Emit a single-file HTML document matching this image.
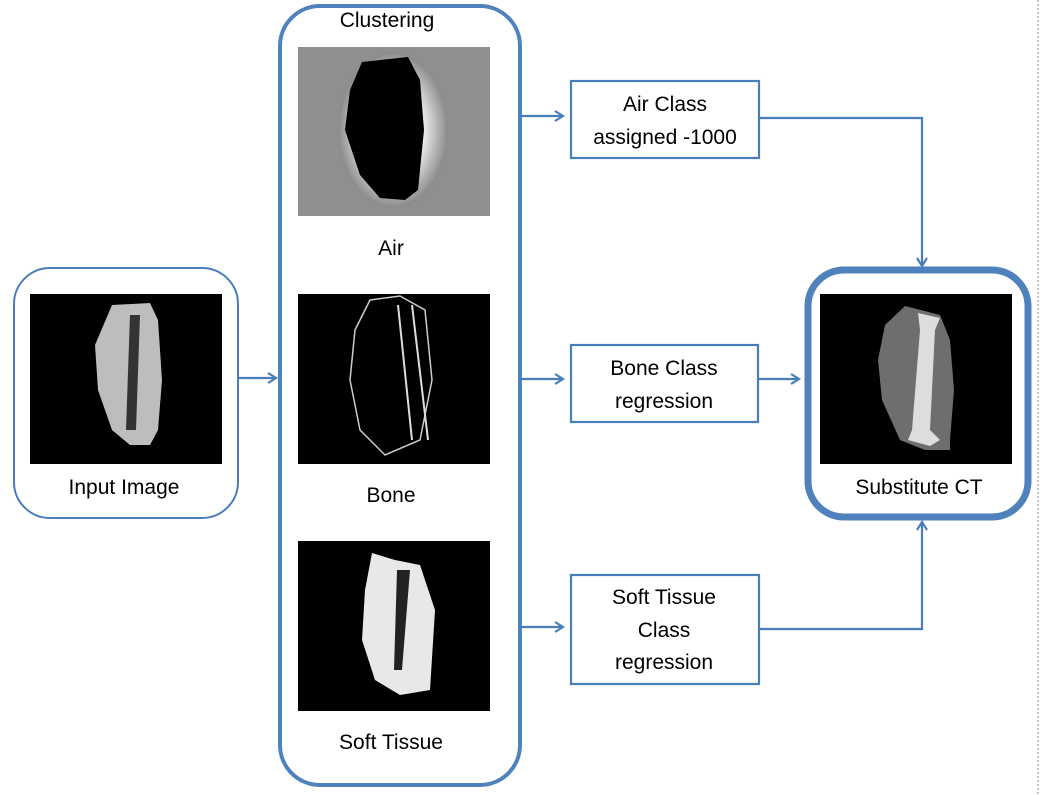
<!DOCTYPE html>
<html><head><meta charset="utf-8"><style>
html,body{margin:0;padding:0;background:#fff;}
svg{display:block;}
text{font-family:"Liberation Sans",sans-serif;font-size:21px;fill:#000;text-anchor:middle;}
</style></head><body>
<svg width="1045" height="795" viewBox="0 0 1045 795" xmlns="http://www.w3.org/2000/svg">
<defs>
<marker id="ah" markerWidth="12" markerHeight="12" refX="9" refY="6" orient="auto" markerUnits="userSpaceOnUse">
<path d="M1,1 L9,6 L1,11" fill="none" stroke="#4a7ebb" stroke-width="2.2"/>
</marker>
<radialGradient id="halo" cx="50%" cy="50%" r="50%">
<stop offset="0.55" stop-color="#eee"/><stop offset="1" stop-color="#8a8a8a"/>
</radialGradient>
</defs>
<line x1="1038" y1="0" x2="1038" y2="795" stroke="#888" stroke-width="1" stroke-dasharray="2,2"/>

<!-- Input box -->
<rect x="14" y="268" width="224" height="250" rx="36" fill="#fff" stroke="#4a7ebb" stroke-width="2"/>
<rect x="30" y="294" width="192" height="170" fill="#000"/>
<path d="M112,305 L150,303 L158,320 L162,380 L158,430 L150,445 L130,445 L112,430 L98,390 L95,345 Z" fill="#bdbdbd"/>
<path d="M130,315 L140,315 L136,430 L126,430 Z" fill="#333"/>
<text x="124" y="494">Input Image</text>

<!-- Clustering box -->
<rect x="280" y="6" width="240" height="779" rx="40" fill="#fff" stroke="#4f81bd" stroke-width="4"/>
<text x="387" y="27">Clustering</text>
<rect x="298" y="47" width="192" height="169" fill="#8f8f8f"/>
<ellipse cx="393" cy="130" rx="55" ry="78" fill="url(#halo)"/>
<path d="M362,62 L408,57 L420,80 L424,130 L418,190 L405,200 L380,198 L360,175 L345,130 L350,90 Z" fill="#000"/>
<text x="391" y="255">Air</text>

<rect x="298" y="294" width="192" height="170" fill="#000"/>
<path d="M370,300 L400,296 L425,310 L432,380 L420,440 L385,455 L360,430 L350,380 L355,330 Z" fill="none" stroke="#ccc" stroke-width="1.5"/>
<path d="M398,305 L412,440 M412,305 L428,440" stroke="#ddd" stroke-width="2"/>
<text x="391" y="502">Bone</text>

<rect x="298" y="541" width="192" height="170" fill="#000"/>
<path d="M372,553 L395,560 L420,565 L435,610 L430,690 L400,695 L375,680 L362,640 L365,590 Z" fill="#e8e8e8"/>
<path d="M397,570 L410,570 L402,670 L394,670 Z" fill="#222"/>
<text x="391" y="749">Soft Tissue</text>

<!-- arrow input -> clustering -->
<line x1="238" y1="378" x2="276" y2="378" stroke="#4a7ebb" stroke-width="2.2" marker-end="url(#ah)"/>

<!-- class boxes -->
<rect x="571" y="81" width="188" height="77" fill="#fff" stroke="#4a7ebb" stroke-width="2.2"/>
<text x="665" y="111">Air Class</text>
<text x="665" y="144">assigned -1000</text>
<rect x="571" y="345" width="187" height="77" fill="#fff" stroke="#4a7ebb" stroke-width="2.2"/>
<text x="664" y="375">Bone Class</text>
<text x="664" y="408">regression</text>
<rect x="571" y="575" width="188" height="109" fill="#fff" stroke="#4a7ebb" stroke-width="2.2"/>
<text x="664" y="604">Soft Tissue</text>
<text x="664" y="637">Class</text>
<text x="664" y="669">regression</text>

<line x1="520" y1="116" x2="563" y2="116" stroke="#4a7ebb" stroke-width="2.2" marker-end="url(#ah)"/>
<line x1="520" y1="379" x2="563" y2="379" stroke="#4a7ebb" stroke-width="2.2" marker-end="url(#ah)"/>
<line x1="520" y1="627" x2="563" y2="627" stroke="#4a7ebb" stroke-width="2.2" marker-end="url(#ah)"/>

<polyline points="759,118 922,118 922,266" fill="none" stroke="#4a7ebb" stroke-width="2.2" marker-end="url(#ah)"/>
<line x1="759" y1="379" x2="799" y2="379" stroke="#4a7ebb" stroke-width="2.2" marker-end="url(#ah)"/>
<polyline points="759,629 922,629 922,522" fill="none" stroke="#4a7ebb" stroke-width="2.2" marker-end="url(#ah)"/>

<!-- Substitute CT -->
<rect x="808" y="270" width="220" height="247" rx="36" fill="#fff" stroke="#4f81bd" stroke-width="7"/>
<rect x="820" y="294" width="192" height="170" fill="#000"/>
<path d="M905,306 L940,315 L950,340 L954,390 L950,440 L950,450 L925,450 L900,440 L882,400 L878,360 L885,325 Z" fill="#6e6e6e"/>
<path d="M918,313 L940,318 L935,330 L930,430 L940,440 L930,446 L908,440 L912,430 L920,330 Z" fill="#ddd"/>
<text x="919" y="494">Substitute CT</text>
</svg>
</body></html>
